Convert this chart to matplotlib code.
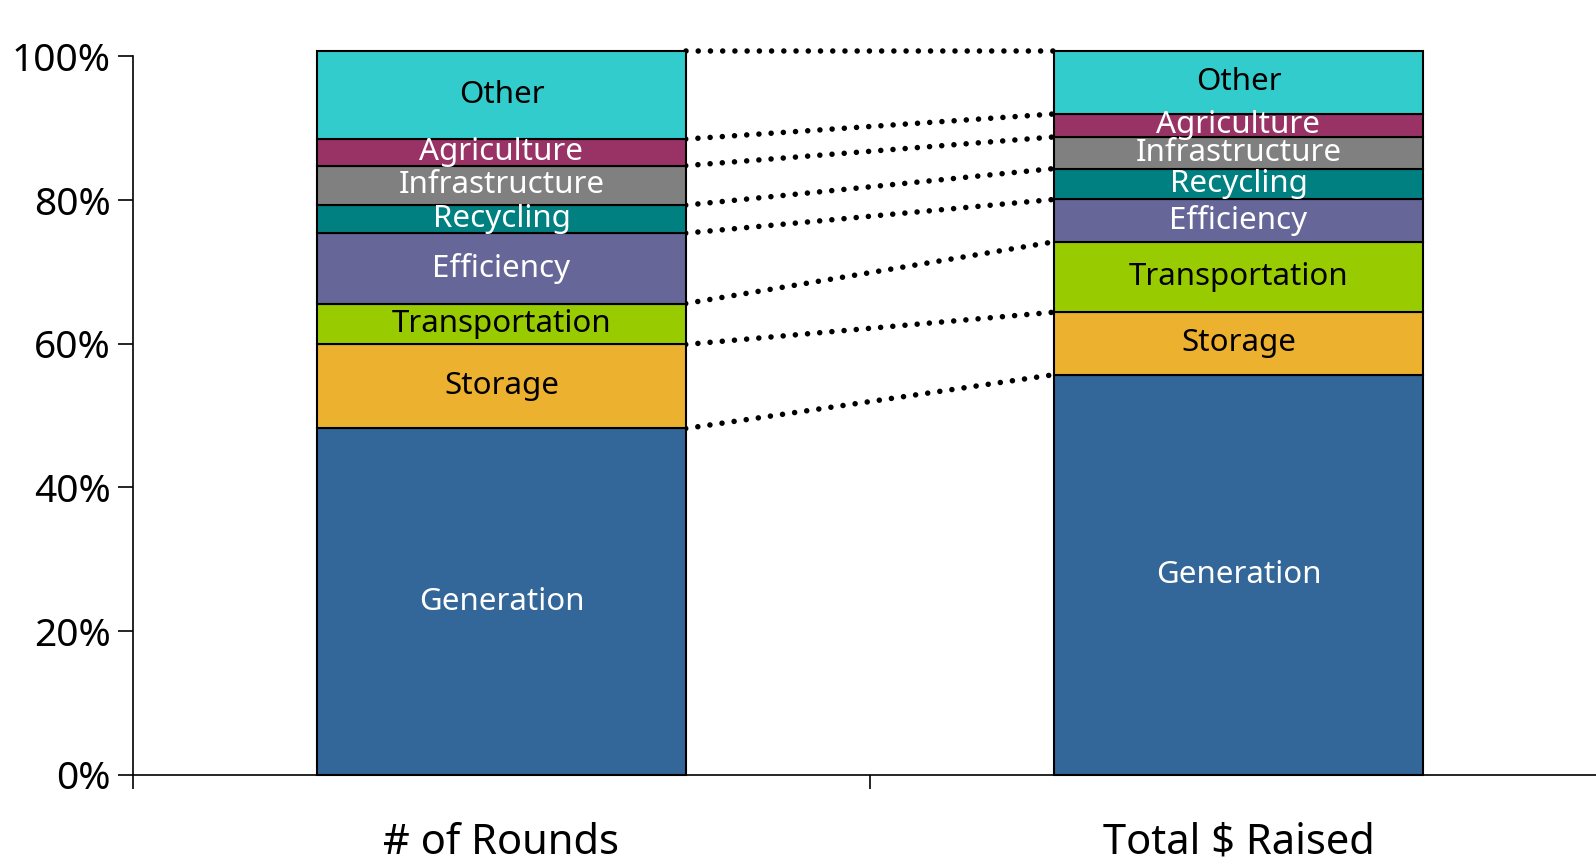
import numpy as np
import matplotlib
matplotlib.use('Agg')
import matplotlib.pyplot as plt

plt.rcParams['font.family'] = ['Noto Sans', 'DejaVu Sans']

groups = ['# of Rounds', 'Total $ Raised']
totals = ['278', '$4.1B']
sectors = ['Generation', 'Storage', 'Transportation', 'Efficiency',
           'Recycling', 'Infrastructure', 'Agriculture', 'Other']
rounds_pct = [48.2, 11.7, 5.7, 9.8, 3.9, 5.5, 3.7, 12.3]
raised_pct = [55.7, 8.7, 9.8, 5.9, 4.3, 4.4, 3.2, 8.8]

colors = ['#336699', '#EDB130', '#99CC00', '#666699',
          '#008080', '#808080', '#993366', '#33CCCC']
text_colors = ['white', 'black', 'black', 'white',
               'white', 'white', 'white', 'black']

fig = plt.figure(figsize=(15.96, 8.61), dpi=100)
ax = fig.add_axes([0.0833, 0.1003, 0.9236, 0.8341])

x = np.arange(len(groups))
w = 0.5
data = np.array([rounds_pct, raised_pct])
bottoms = np.zeros(len(groups))
for i, name in enumerate(sectors):
    vals = data[:, i]
    ax.bar(x, vals, w, bottom=bottoms, color=colors[i], edgecolor='black',
           linewidth=1.5, clip_on=False, zorder=3)
    for j in range(len(groups)):
        ax.text(x[j], bottoms[j] + vals[j] / 2, name, ha='center', va='center',
                fontsize=22.5, color=text_colors[i], zorder=4)
    bottoms = bottoms + vals

# dotted connectors between matching boundaries
cum = np.cumsum(data, axis=1)
for k in range(cum.shape[1]):
    ax.plot([x[0] + w / 2, x[1] - w / 2], [cum[0, k], cum[1, k]],
            color='black', lw=4, dashes=[0.001, 2.2], dash_capstyle='round',
            clip_on=False, zorder=2)

for j in range(len(groups)):
    ax.annotate(totals[j], (x[j], cum[j, -1]), xytext=(0, 18),
                textcoords='offset points', ha='center', va='center', fontsize=21)

ax.set_xlim(-0.5, 1.5)
ax.set_ylim(0, 100)
ax.set_yticks([0, 20, 40, 60, 80, 100])
ax.set_yticklabels(['0%', '20%', '40%', '60%', '80%', '100%'])
ax.tick_params(axis='y', length=11, width=1.2, labelsize=28, pad=5)

ax.set_xticks([-0.5, 0.5, 1.5])
ax.set_xticklabels([])
ax.tick_params(axis='x', which='major', direction='out', length=10, width=1.2)
ax.set_xticks(x, minor=True)
ax.set_xticklabels(groups, minor=True)
ax.tick_params(axis='x', which='minor', length=0, labelsize=30, pad=34)

for s in ['top', 'right']:
    ax.spines[s].set_visible(False)
ax.spines['left'].set_linewidth(1.2)
ax.spines['bottom'].set_linewidth(1.2)

fig.savefig('out.png', dpi=100)
